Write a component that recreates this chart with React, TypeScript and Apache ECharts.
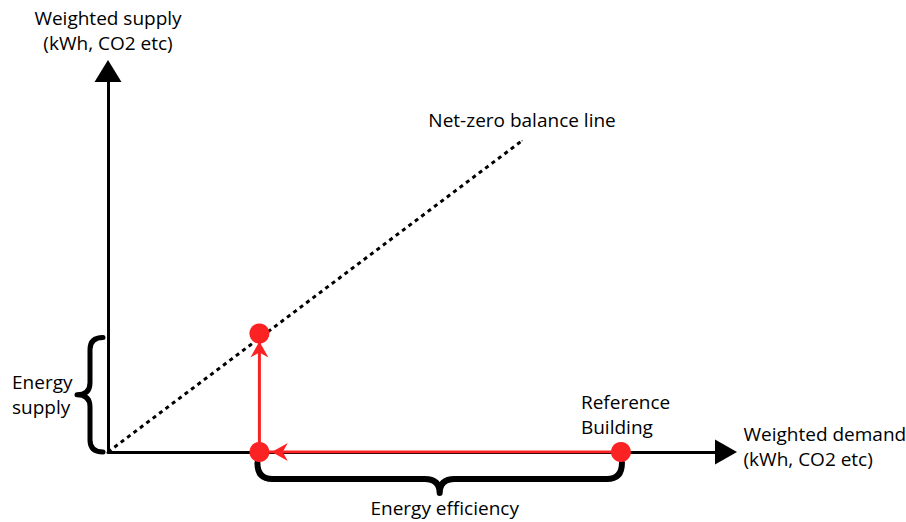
import { useEffect, useRef } from "react";
import * as echarts from "echarts";

// ---- data (axis units) ----
const X_MAX = 100;
const Y_MAX = 82;
const netZeroLine: number[][] = [[0, 0], [67, 67]];
const referenceBuilding: number[] = [83, 0];
const efficientDemand: number[] = [24.5, 0];
const efficientBuilding: number[] = [24.5, 25.5];
const arrowTips: number[][] = [[26.5, 0], [24.5, 23.8]];
const arrowDirections: string[] = ["left", "up"];
const braceSpans: number[][] = [
  [0, 0, 0, 25.5],
  [24.5, 0, 83, 0],
];
const braceLabels: string[] = ["Energy\nsupply", "Energy efficiency"];
const xAxisName = "Weighted demand\n(kWh, CO2 etc)";
const yAxisName = "Weighted supply\n(kWh, CO2 etc)";
const netZeroLabel = "Net-zero balance line";
const referenceLabel = "Reference\nBuilding";

const FONT = '"Open Sans", "DejaVu Sans", sans-serif';
const INK = "#000000";
const RED = "#fa2222";
const FS = 19;
const FW = 400;

export default function App() {
  const ref = useRef<HTMLDivElement>(null);
  useEffect(() => {
    if (!ref.current) return;
    const chart = echarts.init(ref.current, null, { renderer: "svg" });
    const textStyle = { fontFamily: FONT, fontSize: FS, fontWeight: FW, color: INK, lineHeight: 25 };

    const renderBrace = (params: any, api: any) => {
      const p1 = api.coord([api.value(0), api.value(1)]);
      const p2 = api.coord([api.value(2), api.value(3)]);
      const label = braceLabels[params.dataIndex];
      let d = "";
      let text: any;
      let lw = 5;
      if (Math.abs(p1[0] - p2[0]) < 1) {
        const top = Math.min(p1[1], p2[1]) + 4;
        const bottom = Math.max(p1[1], p2[1]);
        const xe = p1[0] - 5;
        const xt = p1[0] - 31;
        const xm = (xe + xt) / 2;
        const ym = (top + bottom) / 2;
        const r = 12;
        d = `M${xe},${top} Q${xm},${top} ${xm},${top + r} L${xm},${ym - r} Q${xm},${ym} ${xt},${ym} Q${xm},${ym} ${xm},${ym + r} L${xm},${bottom - r} Q${xm},${bottom} ${xe},${bottom}`;
        text = { x: p1[0] - 96, y: ym, align: "left" };
      } else {
        const left = Math.min(p1[0], p2[0]) - 2;
        const right = Math.max(p1[0], p2[0]) + 1;
        const ye = p1[1] + 11;
        const ymid = p1[1] + 27;
        const yt = p1[1] + 41;
        const xc = (left + right) / 2;
        const r = 15;
        d = `M${left},${ye} Q${left},${ymid} ${left + r},${ymid} L${xc - r},${ymid} Q${xc},${ymid} ${xc},${yt} Q${xc},${ymid} ${xc + r},${ymid} L${right - r},${ymid} Q${right},${ymid} ${right},${ye}`;
        text = { x: xc + 5, y: yt + 15, align: "center" };
        lw = 6;
      }
      return {
        type: "group",
        children: [
          {
            type: "path",
            shape: { pathData: d },
            style: { fill: "none", stroke: INK, lineWidth: lw, lineCap: "round", lineJoin: "round" },
          },
          {
            type: "text",
            style: {
              text: label,
              x: text.x,
              y: text.y,
              align: text.align,
              verticalAlign: "middle",
              fill: INK,
              fontSize: FS,
              fontWeight: FW,
              fontFamily: FONT,
              lineHeight: 25,
            },
          },
        ],
      };
    };

    const renderArrow = (params: any, api: any) => {
      const p = api.coord([api.value(0), api.value(1)]);
      const dir = arrowDirections[params.dataIndex];
      // local shape: tip at origin, pointing towards -y (a = across, b = back)
      const local = [[0, 0], [9, 16], [0, 11], [-9, 16]];
      const pts = local.map(([a, b]) =>
        dir === "left" ? [p[0] + b, p[1] + a] : [p[0] + a, p[1] + b]
      );
      return {
        type: "polygon",
        shape: { points: pts },
        style: { fill: RED },
      };
    };

    chart.setOption({
      animation: false,
      backgroundColor: "#ffffff",
      grid: { left: 108, right: 180, top: 71, bottom: 70, outerBoundsMode: "none" },
      xAxis: {
        type: "value",
        min: 0,
        max: X_MAX,
        axisLine: {
          show: true,
          symbol: ["none", "triangle"],
          symbolSize: [25, 22],
          lineStyle: { color: INK, width: 3 },
        },
        axisTick: { show: false },
        axisLabel: { show: false },
        splitLine: { show: false },
      },
      yAxis: {
        type: "value",
        min: 0,
        max: Y_MAX,
        name: yAxisName,
        nameLocation: "end",
        nameGap: 16,
        nameTextStyle: { ...textStyle, align: "center", verticalAlign: "bottom" },
        axisLine: {
          show: true,
          symbol: ["none", "triangle"],
          symbolSize: [27, 22],
          lineStyle: { color: INK, width: 3 },
        },
        axisTick: { show: false },
        axisLabel: { show: false },
        splitLine: { show: false },
      },
      series: [
        {
          type: "line",
          data: netZeroLine,
          symbol: "none",
          lineStyle: { color: INK, width: 3, type: [4, 4] },
          z: 2,
        },
        {
          type: "scatter",
          data: [
            {
              value: netZeroLine[netZeroLine.length - 1],
              label: { position: "top", distance: 8, formatter: netZeroLabel },
            },
            {
              value: [X_MAX, 0],
              label: { position: "right", distance: 17, offset: [0, -6], formatter: xAxisName },
            },
          ],
          symbolSize: 1,
          itemStyle: { color: INK, opacity: 1 },
          label: {
            show: true,
            ...textStyle,
          },
          z: 2,
        },
        {
          type: "custom",
          renderItem: renderBrace,
          data: braceSpans,
          encode: { x: [0, 2], y: [1, 3] },
          z: 3,
        },
        {
          type: "line",
          data: [
            {
              value: referenceBuilding,
              label: {
                show: true,
                position: "top",
                distance: 3,
                align: "left",
                offset: [-40, 0],
                formatter: referenceLabel,
                ...textStyle,
              },
            },
            efficientDemand,
            efficientBuilding,
          ],
          symbol: "circle",
          symbolSize: 20,
          itemStyle: { color: RED },
          lineStyle: { color: RED, width: 3 },
          z: 5,
        },
        {
          type: "custom",
          renderItem: renderArrow,
          data: arrowTips,
          encode: { x: 0, y: 1 },
          z: 6,
        },
      ],
    });
    return () => chart.dispose();
  }, []);
  return (
    <div
      ref={ref}
      style={{ position: "fixed", left: 0, top: 0, width: 906, height: 522, background: "#fff" }}
    />
  );
}
